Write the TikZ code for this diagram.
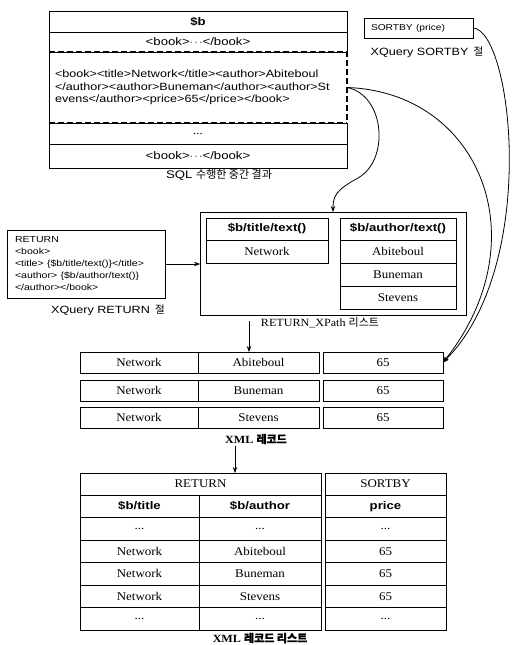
\documentclass[tikz,border=0pt]{standalone}
\usepackage{fontspec}
\setmainfont{Liberation Serif}
\newfontfamily\wsans[FakeStretch=1.2]{Liberation Sans}
\newfontfamily\wserif[FakeStretch=1.1]{Liberation Serif}
\newfontfamily\kr{Noto Sans CJK KR}
\newfontfamily\krb[FakeBold=1.2]{Noto Sans CJK KR}
\usetikzlibrary{arrows.meta}
\newcommand\tdat{\wserif\fontsize{11.8}{13}\selectfont}
\newcommand\thdr{\wsans\bfseries\fontsize{11}{13}\selectfont}
\newcommand\tsq{\wsans\fontsize{10.5}{13.5}\selectfont}
\newcommand\tlbl{\wsans\fontsize{10.5}{12}\selectfont}
\tikzset{
  cell/.style={draw, line width=0.9pt, inner sep=0pt, outer sep=0pt},
  plain/.style={inner sep=0pt, outer sep=0pt},
  arr/.style={-{Stealth[length=6pt,width=4.5pt]}, line width=0.8pt},
  frame/.style={line width=0.9pt},
  dashframe/.style={line width=1.3pt, dash pattern=on 6pt off 3pt},
}
\begin{document}
\begin{tikzpicture}[x=1pt,y=-1pt]
\useasboundingbox[fill=white] (0,0) rectangle (512,645);

% ---------- SQL intermediate result ----------
\node[plain, minimum width=298pt, minimum height=21pt] (r1) at (198,21.5) {\thdr \$b};
\node[plain, minimum width=298pt, minimum height=20pt] (r2) at (198,42) {\wsans\fontsize{11}{13}\selectfont <book>$\cdots$</book>};
\node[plain, minimum width=298pt, minimum height=71pt, text width=286pt, align=left] (r3) at (198,87.5)
  {\tsq <book><title>Network</title><author>Abiteboul\\</author><author>Buneman</author><author>St\\evens</author><price>65</price></book>};
\node[plain, minimum width=298pt, minimum height=21pt] (r4) at (198,133.5) {\tdat ...};
\node[plain, minimum width=298pt, minimum height=24pt] (r5) at (198,156) {\wsans\fontsize{11}{13}\selectfont <book>$\cdots$</book>};
\draw[frame] (r1.north west) rectangle (r2.south east);
\draw[frame] (r1.south west) -- (r1.south east);
\draw[frame] (r3.north west) -- (r3.south west);
\draw[dashframe] (r3.north west) -- (r3.north east) -- (r3.south east);
\draw[dashframe] (r3.south west) -- (r3.south east);
\draw[frame] (r4.north west) rectangle (r5.south east);
\draw[frame] (r4.south west) -- (r4.south east);
\node[plain] (sqllbl) at (219,175) {\wsans\fontsize{11}{12}\selectfont SQL {\kr 수행한 중간 결과}};

% ---------- SORTBY clause ----------
\node[cell, minimum width=109pt, minimum height=20pt, text width=95pt, align=left] (sb) at (418.5,28)
  {\wsans\fontsize{8.5}{10}\selectfont SORTBY (price)};
\node[plain] (sblbl) at (427,52) {\tlbl XQuery SORTBY\, {\kr 절}};

% ---------- RETURN clause ----------
\node[cell, minimum width=158pt, minimum height=68pt, text width=142pt, align=left] (ret) at (86,264)
  {\wsans\fontsize{8.8}{12}\selectfont RETURN\\<book>\\<title> \{\$b/title/text()\}</title>\\<author> \{\$b/author/text()\}\\</author></book>};
\node[plain] (retlbl) at (108,310) {\tlbl XQuery RETURN\, {\kr 절}};

% ---------- RETURN_XPath list ----------
\node[cell, line width=1pt, minimum width=266pt, minimum height=103pt] (xp) at (333,263.5) {};
\node[cell, minimum width=122pt, minimum height=22pt] (xl1) at (267,229) {\thdr \$b/title/text()};
\node[cell, minimum width=122pt, minimum height=23pt] (xl2) at (267,251.5) {\tdat Network};
\node[cell, minimum width=116pt, minimum height=22pt] (xr1) at (398,229) {\thdr \$b/author/text()};
\node[cell, minimum width=116pt, minimum height=23pt] (xr2) at (398,251.5) {\tdat Abiteboul};
\node[cell, minimum width=116pt, minimum height=23pt] (xr3) at (398,274.5) {\tdat Buneman};
\node[cell, minimum width=116pt, minimum height=23pt] (xr4) at (398,297.5) {\tdat Stevens};
\node[plain] (xplbl) at (320,323) {\wserif\fontsize{11}{12}\selectfont RETURN\_XPath {\kr 리스트}};

% ---------- XML records ----------
\node[cell, minimum width=118pt, minimum height=21pt] (c1a) at (139,362.5) {\tdat Network};
\node[cell, minimum width=121pt, minimum height=21pt] (c1b) at (258.5,362.5) {\tdat Abiteboul};
\node[cell, minimum width=120pt, minimum height=21pt] (c1c) at (383,362.5) {\tdat 65};
\node[cell, minimum width=118pt, minimum height=21pt] (c2a) at (139,390.5) {\tdat Network};
\node[cell, minimum width=121pt, minimum height=21pt] (c2b) at (258.5,390.5) {\tdat Buneman};
\node[cell, minimum width=120pt, minimum height=21pt] (c2c) at (383,390.5) {\tdat 65};
\node[cell, minimum width=118pt, minimum height=21pt] (c3a) at (139,417.5) {\tdat Network};
\node[cell, minimum width=121pt, minimum height=21pt] (c3b) at (258.5,417.5) {\tdat Stevens};
\node[cell, minimum width=120pt, minimum height=21pt] (c3c) at (383,417.5) {\tdat 65};
\node[plain] (reclbl) at (256,439) {\wserif\bfseries\fontsize{11}{12}\selectfont XML {\krb 레코드}};

% ---------- XML record list ----------
\node[cell, minimum width=241pt, minimum height=22pt] (hR) at (200.5,484) {\tdat RETURN};
\node[cell, minimum width=121pt, minimum height=22pt] (hS) at (385.5,484) {\tdat SORTBY};
\node[cell, minimum width=119pt, minimum height=22.5pt] (t1a) at (139.5,506.25) {\thdr \$b/title};
\node[cell, minimum width=122pt, minimum height=22.5pt] (t1b) at (260,506.25) {\thdr \$b/author};
\node[cell, minimum width=121pt, minimum height=22.5pt] (t1c) at (385.5,506.25) {\thdr price};
\node[cell, minimum width=119pt, minimum height=22.5pt] (t2a) at (139.5,528.75) {\tdat ...};
\node[cell, minimum width=122pt, minimum height=22.5pt] (t2b) at (260,528.75) {\tdat ...};
\node[cell, minimum width=121pt, minimum height=22.5pt] (t2c) at (385.5,528.75) {\tdat ...};
\node[cell, minimum width=119pt, minimum height=22.5pt] (t3a) at (139.5,551.25) {\tdat Network};
\node[cell, minimum width=122pt, minimum height=22.5pt] (t3b) at (260,551.25) {\tdat Abiteboul};
\node[cell, minimum width=121pt, minimum height=22.5pt] (t3c) at (385.5,551.25) {\tdat 65};
\node[cell, minimum width=119pt, minimum height=22.5pt] (t4a) at (139.5,573.75) {\tdat Network};
\node[cell, minimum width=122pt, minimum height=22.5pt] (t4b) at (260,573.75) {\tdat Buneman};
\node[cell, minimum width=121pt, minimum height=22.5pt] (t4c) at (385.5,573.75) {\tdat 65};
\node[cell, minimum width=119pt, minimum height=22.5pt] (t5a) at (139.5,596.25) {\tdat Network};
\node[cell, minimum width=122pt, minimum height=22.5pt] (t5b) at (260,596.25) {\tdat Stevens};
\node[cell, minimum width=121pt, minimum height=22.5pt] (t5c) at (385.5,596.25) {\tdat 65};
\node[cell, minimum width=119pt, minimum height=22.5pt] (t6a) at (139.5,618.75) {\tdat ...};
\node[cell, minimum width=122pt, minimum height=22.5pt] (t6b) at (260,618.75) {\tdat ...};
\node[cell, minimum width=121pt, minimum height=22.5pt] (t6c) at (385.5,618.75) {\tdat ...};
\node[plain] (lstlbl) at (260,638) {\wserif\bfseries\fontsize{11}{12}\selectfont XML {\krb 레코드 리스트}};

% ---------- connectors ----------
\draw[arr] (ret.east) -- (ret.east -| xp.west);
\coordinate (xpout) at (249,321);
\draw[arr] (xpout) -- (xpout |- c1b.north);
\coordinate (recout) at (235,446);
\draw[arr] (recout) -- (recout |- hR.north);
\draw[arr] (r3.east) .. controls (385,95) and (390,160) .. (358,178)
                     .. controls (336,190) and (333,196) .. (xp.north);
\draw[arr] (r3.east) .. controls (480,92) and (540,240) .. (c1c.east);
\draw[arr] (sb.east) .. controls (512,30) and (540,265) .. (c1c.east);
\end{tikzpicture}
\end{document}
